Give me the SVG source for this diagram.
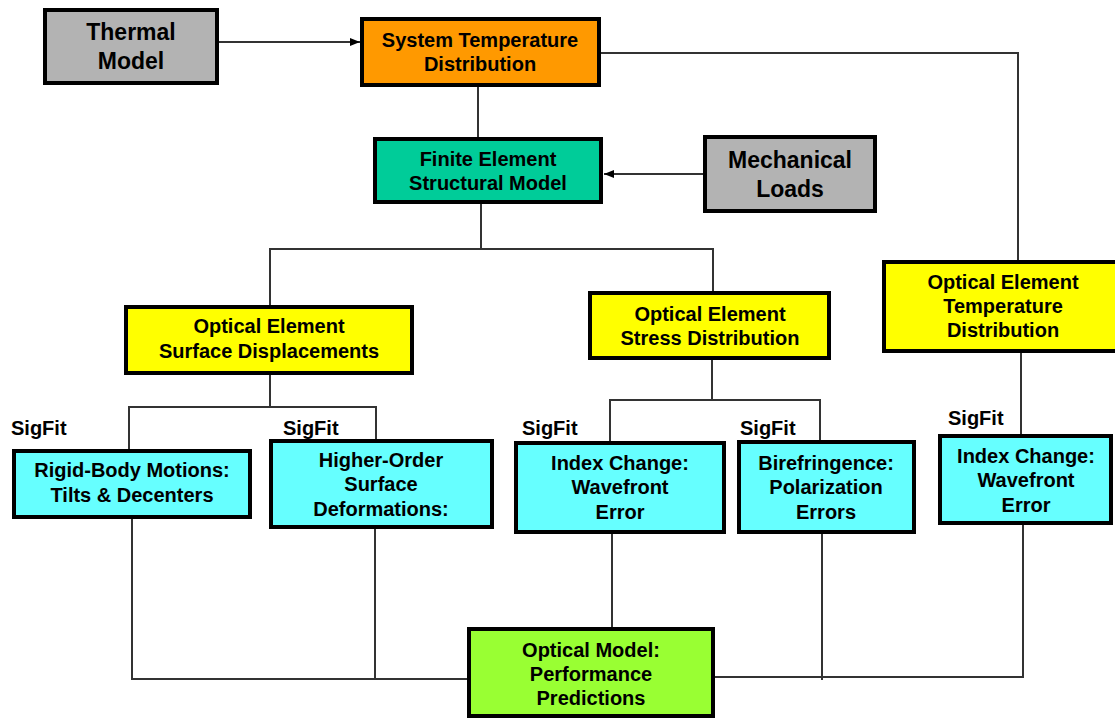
<svg xmlns="http://www.w3.org/2000/svg" width="1115" height="719" viewBox="0 0 1115 719">
<style>
.box{stroke:#000;stroke-width:4}
.gray{fill:#b3b3b3}.orange{fill:#ff9900}.teal{fill:#00cc99}.yellow{fill:#ffff00}.cyan{fill:#66ffff}.green{fill:#99ff33}
text{font-family:"Liberation Sans",Arial,sans-serif;font-weight:bold;fill:#000;text-anchor:middle;font-size:20px}
.big{font-size:23px}
.sig{text-anchor:start;font-size:20px}
.conn{fill:none;stroke:#333;stroke-width:2}
</style>
<defs>
<marker id="arr" viewBox="0 0 10 10" refX="10" refY="5" markerWidth="10" markerHeight="10" markerUnits="userSpaceOnUse" orient="auto">
<path d="M0,1 L10,5 L0,9 Z" fill="#000"/>
</marker>
</defs>
<rect width="1115" height="719" fill="#fff"/>
<g id="connectors">
<line class="conn" x1="219" y1="42" x2="360" y2="42" marker-end="url(#arr)"/>
<polyline class="conn" points="601,53 1018,53 1018,260"/>
<line class="conn" x1="478" y1="87" x2="478" y2="137"/>
<line class="conn" x1="703" y1="174" x2="604" y2="174" marker-end="url(#arr)"/>
<line class="conn" x1="481" y1="204" x2="481" y2="249"/>
<polyline class="conn" points="270,305 270,249 713,249 713,291"/>
<line class="conn" x1="270" y1="375" x2="270" y2="408"/>
<polyline class="conn" points="129,449 129,407 376,407 376,439"/>
<line class="conn" x1="712" y1="360" x2="712" y2="400"/>
<polyline class="conn" points="610,441 610,400 820,400 820,440"/>
<line class="conn" x1="1021" y1="353" x2="1021" y2="434"/>
<polyline class="conn" points="132,519 132,679 467,679"/>
<line class="conn" x1="375" y1="529" x2="375" y2="679"/>
<line class="conn" x1="612" y1="534" x2="612" y2="627"/>
<line class="conn" x1="822" y1="534" x2="822" y2="680"/>
<polyline class="conn" points="1023,525 1023,677 715,677"/>
</g>
<g id="thermal-model">
<rect class="box gray" x="45" y="10" width="172" height="73"/>
<text class="big" x="131" y="40">Thermal</text>
<text class="big" x="131" y="69">Model</text>
</g>
<g id="system-temperature">
<rect class="box orange" x="362" y="19" width="237" height="66"/>
<text x="480" y="47">System Temperature</text>
<text x="480" y="71">Distribution</text>
</g>
<g id="finite-element">
<rect class="box teal" x="375" y="139" width="226" height="63"/>
<text x="488" y="166">Finite Element</text>
<text x="488" y="190">Structural Model</text>
</g>
<g id="mechanical-loads">
<rect class="box gray" x="705" y="137" width="170" height="74"/>
<text class="big" x="790" y="168">Mechanical</text>
<text class="big" x="790" y="197">Loads</text>
</g>
<g id="surface-displacements">
<rect class="box yellow" x="126" y="307" width="286" height="66"/>
<text x="269" y="333">Optical Element</text>
<text x="269" y="358">Surface Displacements</text>
</g>
<g id="stress-distribution">
<rect class="box yellow" x="590" y="293" width="239" height="65"/>
<text x="710" y="321">Optical Element</text>
<text x="710" y="345">Stress Distribution</text>
</g>
<g id="temperature-distribution">
<rect class="box yellow" x="884" y="262" width="236" height="89"/>
<text x="1003" y="289">Optical Element</text>
<text x="1003" y="313">Temperature</text>
<text x="1003" y="337">Distribution</text>
</g>
<g id="rigid-body">
<text class="sig" x="11" y="435">SigFit</text>
<rect class="box cyan" x="14" y="451" width="236" height="66"/>
<text x="132" y="477">Rigid-Body Motions:</text>
<text x="132" y="502">Tilts &amp; Decenters</text>
</g>
<g id="higher-order">
<text class="sig" x="283" y="435">SigFit</text>
<rect class="box cyan" x="271" y="441" width="221" height="86"/>
<text x="381" y="467">Higher-Order</text>
<text x="381" y="491">Surface</text>
<text x="381" y="516">Deformations:</text>
</g>
<g id="index-change-1">
<text class="sig" x="522" y="435">SigFit</text>
<rect class="box cyan" x="516" y="443" width="208" height="89"/>
<text x="620" y="470">Index Change:</text>
<text x="620" y="494">Wavefront</text>
<text x="620" y="519">Error</text>
</g>
<g id="birefringence">
<text class="sig" x="740" y="435">SigFit</text>
<rect class="box cyan" x="739" y="442" width="175" height="90"/>
<text x="826" y="470">Birefringence:</text>
<text x="826" y="494">Polarization</text>
<text x="826" y="519">Errors</text>
</g>
<g id="index-change-2">
<text class="sig" x="948" y="425">SigFit</text>
<rect class="box cyan" x="940" y="436" width="171" height="87"/>
<text x="1026" y="463">Index Change:</text>
<text x="1026" y="487">Wavefront</text>
<text x="1026" y="512">Error</text>
</g>
<g id="optical-model">
<rect class="box green" x="469" y="629" width="244" height="87"/>
<text x="591" y="657">Optical Model:</text>
<text x="591" y="681">Performance</text>
<text x="591" y="705">Predictions</text>
</g>
</svg>
